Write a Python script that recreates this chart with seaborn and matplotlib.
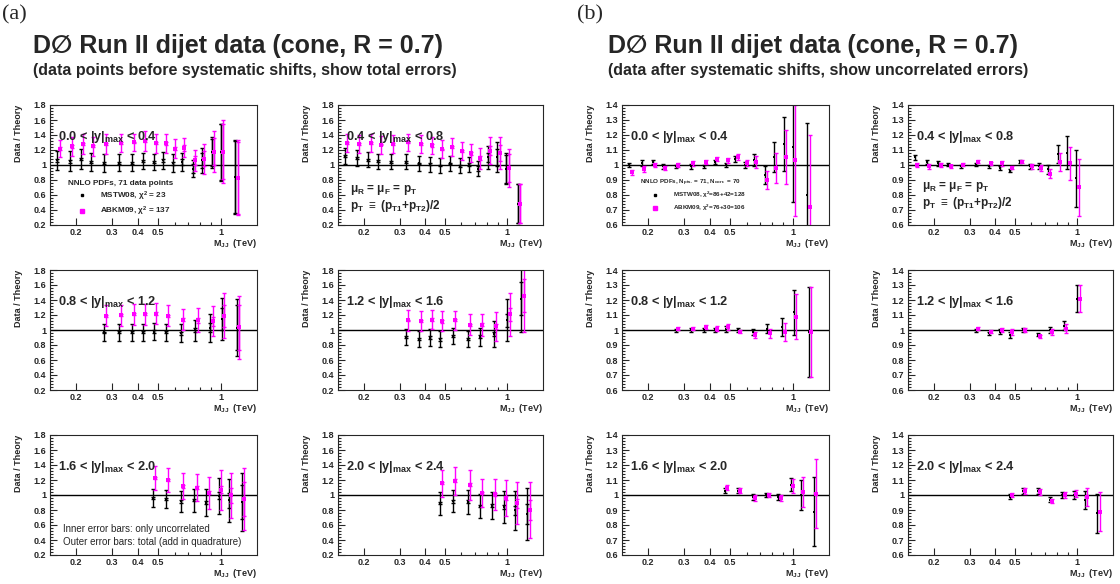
#!/usr/bin/env python3
"""
D0 Run II dijet mass data compared to NNLO PDFs (MSTW08, ABKM09).
Left block: data before systematic shifts, right block: after shifts.
"""

import matplotlib
matplotlib.use("Agg")
import matplotlib.pyplot as plt
import seaborn as sns
from matplotlib.lines import Line2D
from matplotlib.ticker import FixedLocator, MultipleLocator, FuncFormatter, NullFormatter

# Set style (font lists after seaborn, it resets them)
sns.set_style("ticks")
plt.rcParams["font.family"] = ["Liberation Sans", "DejaVu Sans"]
plt.rcParams["font.weight"] = "bold"
plt.rcParams["axes.labelweight"] = "bold"
plt.rcParams["mathtext.fontset"] = "custom"
plt.rcParams["mathtext.rm"] = "Liberation Sans:bold"
plt.rcParams["mathtext.bf"] = "Liberation Sans:bold"
plt.rcParams["mathtext.it"] = "Liberation Sans:bold"
plt.rcParams["mathtext.default"] = "rm"

# ---------------- data ----------------
y_edges = ["0.0", "0.4", "0.8", "1.2", "1.6", "2.0", "2.4"]

# 0.0 < |y|max < 0.4
mjj_y1 = [0.163, 0.187, 0.212, 0.237, 0.272, 0.322, 0.374, 0.423, 0.477, 0.530, 0.590, 0.653, 0.734, 0.815, 0.905, 1.0, 1.18]
mstw_y1 = [1.06, 1.05, 1.08, 1.04, 1.03, 1.03, 1.03, 1.05, 1.04, 1.06, 1.02, 1.04, 0.95, 1.06, 1.17, 1.17, 0.84]
mstw_tot_y1 = [0.13, 0.13, 0.13, 0.12, 0.12, 0.11, 0.11, 0.11, 0.11, 0.11, 0.12, 0.12, 0.11, 0.17, 0.21, 0.38, 0.50]
abkm_y1 = [1.22, 1.25, 1.28, 1.25, 1.28, 1.29, 1.30, 1.32, 1.29, 1.29, 1.22, 1.23, 1.06, 1.08, 1.18, 1.18, 0.83]
abkm_tot_y1 = [0.11, 0.13, 0.13, 0.13, 0.13, 0.12, 0.12, 0.13, 0.13, 0.13, 0.13, 0.13, 0.14, 0.20, 0.28, 0.42, 0.50]
unc_y1 = [0.015, 0.02, 0.015, 0.015, 0.012, 0.015, 0.012, 0.015, 0.015, 0.02, 0.02, 0.04, 0.06, 0.10, 0.18, 0.37, 0.48]
mstw_sh_y1 = [1.00, 1.01, 1.02, 0.99, 0.99, 0.99, 0.99, 1.02, 1.00, 1.04, 1.00, 1.03, 0.93, 1.05, 1.14, 1.12, 0.80]
abkm_sh_y1 = [0.95, 0.97, 1.00, 0.98, 1.00, 1.01, 1.02, 1.04, 1.03, 1.05, 1.01, 1.02, 0.90, 0.98, 1.05, 1.03, 0.72]

# 0.4 < |y|max < 0.8
mjj_y2 = [0.162, 0.186, 0.211, 0.236, 0.272, 0.321, 0.372, 0.422, 0.472, 0.528, 0.590, 0.650, 0.724, 0.806, 0.898, 0.995, 1.127]
mstw_y2 = [1.12, 1.09, 1.07, 1.05, 1.04, 1.04, 1.02, 1.01, 0.99, 1.02, 0.99, 1.00, 0.95, 1.10, 1.10, 0.95, 0.48]
mstw_tot_y2 = [0.11, 0.11, 0.10, 0.10, 0.10, 0.10, 0.10, 0.10, 0.10, 0.10, 0.10, 0.10, 0.10, 0.15, 0.20, 0.21, 0.26]
abkm_y2 = [1.29, 1.28, 1.29, 1.27, 1.28, 1.30, 1.28, 1.26, 1.21, 1.24, 1.19, 1.16, 1.09, 1.19, 1.16, 0.96, 0.48]
abkm_tot_y2 = [0.12, 0.12, 0.12, 0.12, 0.12, 0.12, 0.12, 0.12, 0.12, 0.12, 0.12, 0.12, 0.14, 0.18, 0.22, 0.25, 0.26]
unc_y2 = [0.015, 0.015, 0.015, 0.01, 0.01, 0.01, 0.01, 0.015, 0.01, 0.01, 0.015, 0.02, 0.03, 0.06, 0.11, 0.19, 0.26]
mstw_sh_y2 = [1.05, 1.02, 1.01, 1.00, 0.99, 1.00, 0.99, 0.98, 0.96, 1.02, 0.99, 0.99, 0.97, 1.07, 1.08, 0.91, 0.30]
abkm_sh_y2 = [1.00, 0.99, 1.00, 0.99, 1.00, 1.02, 1.01, 1.01, 0.98, 1.02, 0.99, 0.98, 0.94, 1.02, 1.01, 0.85, 0.28]

# 0.8 < |y|max < 1.2
mjj_y3 = [0.272, 0.322, 0.374, 0.423, 0.477, 0.546, 0.646, 0.755, 0.894, 1.011, 1.20]
mstw_y3 = [0.97, 0.97, 0.97, 0.97, 0.98, 0.97, 0.96, 1.00, 1.03, 1.15, 1.03]
mstw_tot_y3 = [0.11, 0.11, 0.11, 0.11, 0.11, 0.11, 0.12, 0.14, 0.19, 0.28, 0.38]
abkm_y3 = [1.19, 1.20, 1.21, 1.21, 1.22, 1.19, 1.14, 1.13, 1.12, 1.19, 1.04]
abkm_tot_y3 = [0.14, 0.14, 0.14, 0.14, 0.14, 0.14, 0.14, 0.16, 0.20, 0.30, 0.42]
unc_y3 = [0.01, 0.012, 0.015, 0.015, 0.02, 0.012, 0.02, 0.03, 0.06, 0.15, 0.30]
mstw_sh_y3 = [1.00, 1.00, 1.00, 1.00, 1.01, 1.00, 0.99, 1.01, 1.02, 1.12, 0.99]
abkm_sh_y3 = [1.01, 1.01, 1.02, 1.01, 1.02, 0.99, 0.97, 0.98, 0.99, 1.09, 0.99]

# 1.2 < |y|max < 1.6
mjj_y4 = [0.321, 0.373, 0.423, 0.472, 0.543, 0.643, 0.740, 0.864, 1.005, 1.177]
mstw_y4 = [0.91, 0.88, 0.90, 0.88, 0.92, 0.88, 0.91, 0.95, 1.13, 1.42]
mstw_tot_y4 = [0.11, 0.11, 0.11, 0.11, 0.11, 0.11, 0.12, 0.17, 0.28, 0.45]
abkm_y4 = [1.13, 1.12, 1.14, 1.12, 1.13, 1.07, 1.07, 1.05, 1.21, 1.46]
abkm_tot_y4 = [0.14, 0.13, 0.13, 0.13, 0.13, 0.14, 0.15, 0.19, 0.29, 0.48]
unc_y4 = [0.01, 0.01, 0.015, 0.02, 0.015, 0.01, 0.02, 0.03, 0.09, 0.22]
mstw_sh_y4 = [1.00, 0.98, 0.99, 0.97, 1.00, 0.97, 1.00, 1.03, 1.21, 1.70]
abkm_sh_y4 = [1.01, 0.99, 1.00, 0.99, 1.00, 0.96, 0.99, 1.01, 1.21, 1.72]

# 1.6 < |y|max < 2.0
mjj_y5 = [0.473, 0.544, 0.643, 0.748, 0.855, 0.979, 1.10, 1.27]
mstw_y5 = [0.96, 0.95, 0.92, 0.93, 0.90, 0.99, 0.93, 0.91]
mstw_tot_y5 = [0.12, 0.12, 0.14, 0.15, 0.18, 0.24, 0.29, 0.39]
abkm_y5 = [1.23, 1.20, 1.12, 1.10, 1.03, 1.07, 1.00, 0.95]
abkm_tot_y5 = [0.16, 0.16, 0.17, 0.18, 0.21, 0.27, 0.30, 0.41]
unc_y5 = [0.015, 0.015, 0.02, 0.015, 0.02, 0.045, 0.10, 0.23]
mstw_sh_y5 = [1.03, 1.03, 0.99, 1.00, 0.99, 1.07, 1.00, 0.89]
abkm_sh_y5 = [1.05, 1.03, 0.98, 1.00, 0.98, 1.06, 1.02, 1.01]

# 2.0 < |y|max < 2.4
mjj_y6 = [0.472, 0.543, 0.645, 0.740, 0.850, 0.970, 1.093, 1.26]
mstw_y6 = [0.89, 0.92, 0.91, 0.85, 0.86, 0.84, 0.80, 0.75]
mstw_tot_y6 = [0.15, 0.15, 0.16, 0.16, 0.18, 0.21, 0.26, 0.35]
abkm_y6 = [1.16, 1.19, 1.14, 1.03, 1.01, 0.96, 0.89, 0.80]
abkm_tot_y6 = [0.18, 0.19, 0.20, 0.19, 0.21, 0.24, 0.28, 0.37]
unc_y6 = [0.015, 0.02, 0.02, 0.015, 0.02, 0.025, 0.06, 0.13]
mstw_sh_y6 = [0.99, 1.03, 1.03, 0.97, 1.00, 1.00, 0.97, 0.88]
abkm_sh_y6 = [1.00, 1.03, 1.02, 0.96, 1.00, 1.01, 0.99, 0.89]

x_ticks = [0.2, 0.3, 0.4, 0.5, 1.0]
x_minor = [0.6, 0.7, 0.8, 0.9]

MAGENTA = "#ff00ff"


def style_axis(ax, ylim, ymajor, yminor):
    ax.set_xscale("log")
    ax.set_xlim(0.15, 1.5)
    ax.set_ylim(*ylim)
    ax.xaxis.set_major_locator(FixedLocator(x_ticks))
    ax.xaxis.set_minor_locator(FixedLocator(x_minor))
    ax.xaxis.set_major_formatter(FuncFormatter(lambda v, p: f"{v:g}"))
    ax.xaxis.set_minor_formatter(NullFormatter())
    ax.yaxis.set_major_locator(MultipleLocator(ymajor))
    ax.yaxis.set_minor_locator(MultipleLocator(yminor))
    ax.yaxis.set_major_formatter(FuncFormatter(lambda v, p: f"{v:g}"))
    ax.tick_params(which="both", direction="in", labelsize=6.5, width=0.8, pad=2.5)
    ax.tick_params(which="major", length=5)
    ax.tick_params(which="minor", length=2.5)
    for sp in ax.spines.values():
        sp.set_linewidth(0.8)
    ax.axhline(1.0, color="black", lw=1.0, zorder=1)
    ax.set_ylabel("Data / Theory", fontsize=6.5, loc="top")
    ax.yaxis.set_label_coords(-0.13, 1.0)
    ax.set_xlabel(r"M$_{JJ}$  (TeV)", fontsize=6.5, loc="right")
    ax.xaxis.set_label_coords(1.0, -0.10)


def draw_set(ax, x, y, err, color, size, inner=None):
    ax.errorbar(x, y, yerr=err, fmt="none", ecolor=color, elinewidth=1.0,
                capsize=1.6, capthick=1.0, zorder=2)
    if inner is not None:
        ax.errorbar(x, y, yerr=inner, fmt="none", ecolor=color, elinewidth=1.0,
                    capsize=1.6, capthick=1.0, zorder=2)
    sns.scatterplot(x=x, y=y, ax=ax, marker="s", color=color, s=size,
                    linewidth=0, zorder=3, legend=False)


def bin_label(ax, i):
    ax.text(0.04, 0.71, f"{y_edges[i]} < |y|" + r"$_{max}$" + f" < {y_edges[i + 1]}",
            transform=ax.transAxes, fontsize=9.2, va="baseline", ha="left")


rows = [
    (mjj_y1, mstw_y1, mstw_tot_y1, abkm_y1, abkm_tot_y1, unc_y1, mstw_sh_y1, abkm_sh_y1),
    (mjj_y2, mstw_y2, mstw_tot_y2, abkm_y2, abkm_tot_y2, unc_y2, mstw_sh_y2, abkm_sh_y2),
    (mjj_y3, mstw_y3, mstw_tot_y3, abkm_y3, abkm_tot_y3, unc_y3, mstw_sh_y3, abkm_sh_y3),
    (mjj_y4, mstw_y4, mstw_tot_y4, abkm_y4, abkm_tot_y4, unc_y4, mstw_sh_y4, abkm_sh_y4),
    (mjj_y5, mstw_y5, mstw_tot_y5, abkm_y5, abkm_tot_y5, unc_y5, mstw_sh_y5, abkm_sh_y5),
    (mjj_y6, mstw_y6, mstw_tot_y6, abkm_y6, abkm_tot_y6, unc_y6, mstw_sh_y6, abkm_sh_y6),
]

W, H = 1120, 584
fig = plt.figure(figsize=(W / 100, H / 100), dpi=100)

col_left = {"a": [50, 338], "b": [622, 908]}
col_width = [207, 205]
row_top = [105, 270, 435]
ax_h = 120

axes = {}
for block in ["a", "b"]:
    for i, r in enumerate(rows):
        row, col = divmod(i, 2)
        left = col_left[block][col]
        ax = fig.add_axes([left / W, 1 - (row_top[row] + ax_h) / H, col_width[col] / W, ax_h / H])
        mjj, mstw, mstw_tot, abkm, abkm_tot, unc, mstw_sh, abkm_sh = r
        mjj_shift = [m * 1.025 for m in mjj]  # draw ABKM slightly to the right
        if block == "a":
            style_axis(ax, (0.2, 1.8), 0.2, 0.04)
            draw_set(ax, mjj, mstw, mstw_tot, "black", 3, inner=unc)
            draw_set(ax, mjj_shift, abkm, abkm_tot, MAGENTA, 7, inner=unc)
        else:
            style_axis(ax, (0.6, 1.4), 0.1, 0.02)
            draw_set(ax, mjj, mstw_sh, unc, "black", 3)
            draw_set(ax, mjj_shift, abkm_sh, unc, MAGENTA, 7)
        bin_label(ax, i)
        axes[(block, i)] = ax

# legends in the first panels
handles = [Line2D([], [], marker="s", ls="none", color="black", markersize=1.8),
           Line2D([], [], marker="s", ls="none", color=MAGENTA, markersize=2.6)]

leg = axes[("a", 0)].legend(handles, [r"MSTW08, $\chi^{2}$ = 23", r"ABKM09, $\chi^{2}$ = 137"],
                            title="NNLO PDFs, 71 data points", loc="upper left",
                            bbox_to_anchor=(0.06, 0.42), frameon=False, fontsize=5.9,
                            title_fontsize=5.9, handlelength=3.5, handletextpad=0.4,
                            labelspacing=0.25, borderpad=0.2, alignment="left")

leg = axes[("b", 0)].legend(handles, [r"MSTW08, $\chi^{2}$=86+42=128", r"ABKM09, $\chi^{2}$=76+30=106"],
                            title=r"NNLO PDFs, N$_{pts.}$ = 71, N$_{corr.}$ = 70", loc="upper left",
                            bbox_to_anchor=(0.065, 0.43), frameon=False, fontsize=4.5,
                            title_fontsize=4.5, handlelength=5.0, handletextpad=0.3,
                            labelspacing=0.35, borderpad=0.2, alignment="left")

# scale definitions
for key, (x0, y0, y1) in {("a", 1): (0.06, 0.29, 0.16), ("b", 1): (0.07, 0.32, 0.18)}.items():
    ax = axes[key]
    ax.text(x0, y0, r"$\mu_{R}$ = $\mu_{F}$ = p$_{T}$", transform=ax.transAxes,
            fontsize=8.5, va="center", ha="left")
    ax.text(x0, y1, r"p$_{T}$ $\equiv$ (p$_{T1}$+p$_{T2}$)/2", transform=ax.transAxes,
            fontsize=8.5, va="center", ha="left")

ax = axes[("a", 4)]
ax.text(0.065, 0.22, "Inner error bars: only uncorrelated", transform=ax.transAxes,
        fontsize=7.0, fontweight="normal", va="center", ha="left")
ax.text(0.065, 0.11, "Outer error bars: total (add in quadrature)", transform=ax.transAxes,
        fontsize=7.0, fontweight="normal", va="center", ha="left")

# titles
for x_lab, x_tit, sub in [(0.002, 0.0295, "(data points before systematic shifts, show total errors)"),
                          (0.515, 0.543, "(data after systematic shifts, show uncorrelated errors)")]:
    fig.text(x_lab, 0.975, "(a)" if x_lab < 0.1 else "(b)", family="Liberation Serif",
             fontweight="normal", fontsize=16, va="center", ha="left")
    fig.text(x_tit, 0.922, "D\u2205 Run II dijet data (cone, R = 0.7)", fontsize=18,
             va="center", ha="left")
    fig.text(x_tit, 0.880, sub, fontsize=11.5, va="center", ha="left")

fig.savefig("out.png", dpi=100)
plt.close(fig)
